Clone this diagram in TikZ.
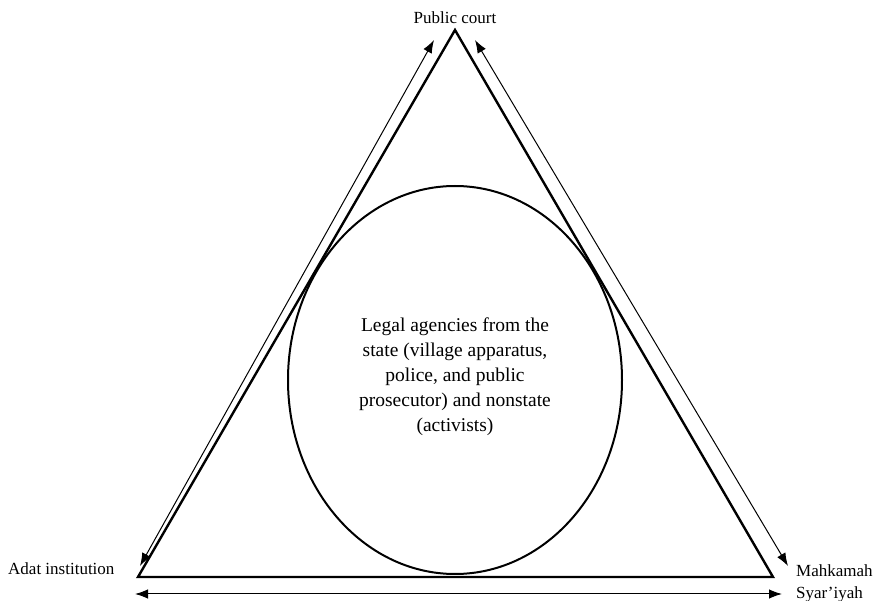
\documentclass[tikz,border=0pt]{standalone}
\usepackage{fontspec}
\setmainfont{Liberation Serif}
\usetikzlibrary{arrows.meta,shapes.geometric}
\begin{document}
\begin{tikzpicture}[x=1pt,y=-1pt,
  lbl/.style={inner sep=0pt, font=\fontsize{17}{20}\selectfont},
  tri/.style={line width=2.4pt, line join=miter},
  dbl/.style={line width=1pt, {Latex[length=13pt,width=9.5pt]}-{Latex[length=13pt,width=9.5pt]}}]
\useasboundingbox (0,0) rectangle (879,601);
\coordinate (A) at (455,30);
\coordinate (B) at (138,577);
\coordinate (C) at (773,577);
\draw[tri] (A) -- (B) -- (C) -- cycle;
\node[draw, ellipse, line width=2pt, minimum width=334pt, minimum height=388pt, inner sep=0pt] (E) at (455,380) {};
\node[align=center, font=\fontsize{19.5}{25}\selectfont, inner sep=0pt] (T) at (455,377) {Legal agencies from the\\state (village apparatus,\\police, and public\\prosecutor) and nonstate\\(activists)};
\node[lbl] (P) at (455,18) {Public court};
\node[lbl, anchor=west] (AI) at (8,569) {Adat institution};
\node[lbl, anchor=west, align=left, font=\fontsize{17}{22}\selectfont] (MS) at (796,583) {Mahkamah\\Syar'iyah};
\coordinate (l1) at (140,566);
\coordinate (l2) at (434,40);
\coordinate (r1) at (475,40);
\coordinate (r2) at (788,566);
\coordinate (b1) at (135,594);
\coordinate (b2) at (782,594);
\draw[dbl] (l1) -- (l2);
\draw[dbl] (r1) -- (r2);
\draw[dbl] (b1) -- (b2);
\end{tikzpicture}
\end{document}
